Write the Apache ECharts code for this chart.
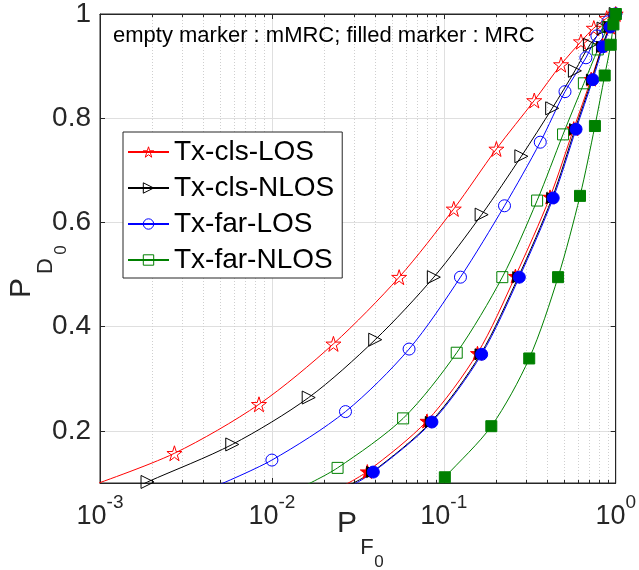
<!DOCTYPE html>
<html>
<head>
<meta charset="utf-8">
<script src="https://cdn.jsdelivr.net/npm/echarts@6/dist/echarts.min.js"></script>
<style>
  html, body { margin: 0; padding: 0; background: #ffffff; }
  #chart { width: 639px; height: 570px; }
</style>
</head>
<body>
<div id="chart"></div>
<script>
// ---- Detection curves: P_F0 (false alarm) vs P_D0 (detection) ----
// mMRC receiver (hollow markers)
const clsLosPf_m  = [0.00271, 0.00841, 0.0228, 0.0550, 0.1143, 0.2023, 0.336, 0.481, 0.628, 0.746, 0.887, 1];
const clsLosPd_m  = [0.157, 0.251, 0.367, 0.495, 0.626, 0.741, 0.834, 0.903, 0.947, 0.973, 0.992, 1];
const clsNlosPf_m = [0.00189, 0.00588, 0.01637, 0.0399, 0.0875, 0.166, 0.2826, 0.427, 0.579, 0.708, 0.85, 1];
const clsNlosPd_m = [0.102, 0.174, 0.264, 0.375, 0.495, 0.615, 0.727, 0.819, 0.891, 0.941, 0.972, 1];
const farLosPf_m  = [0.01, 0.0268, 0.0628, 0.125, 0.2255, 0.364, 0.507, 0.671, 0.777, 0.9, 1];
const farLosPd_m  = [0.144, 0.237, 0.357, 0.495, 0.632, 0.754, 0.851, 0.916, 0.958, 0.985, 1];
const farNlosPf_m = [0.0241, 0.058, 0.1189, 0.219, 0.349, 0.494, 0.653, 0.787, 0.9, 1];
const farNlosPd_m = [0.129, 0.224, 0.350, 0.495, 0.642, 0.769, 0.867, 0.932, 0.975, 1];

// MRC receiver (filled markers)
const clsLosPf  = [0.0359, 0.0798, 0.157, 0.261, 0.415, 0.57, 0.72, 0.84, 0.93, 1];
const clsLosPd  = [0.122, 0.219, 0.349, 0.497, 0.649, 0.78, 0.875, 0.94, 0.975, 1];
const clsNlosPf = [0.0383, 0.0840, 0.1635, 0.271, 0.427, 0.580, 0.727, 0.832, 0.92, 1];
const clsNlosPd = [0.121, 0.217, 0.347, 0.495, 0.647, 0.779, 0.874, 0.937, 0.975, 1];
const farLosPf  = [0.0389, 0.0853, 0.166, 0.275, 0.433, 0.588, 0.736, 0.842, 0.93, 1];
const farLosPd  = [0.121, 0.217, 0.347, 0.495, 0.647, 0.779, 0.874, 0.937, 0.975, 1];
const farNlosPf = [0.1014, 0.189, 0.314, 0.462, 0.620, 0.757, 0.863, 0.935, 0.97, 1];
const farNlosPd = [0.111, 0.209, 0.339, 0.495, 0.651, 0.785, 0.882, 0.941, 0.98, 1];

// Where each curve runs out through the lower/left frame (line only, no marker)
const clsLosTail_m  = [0.000875, 0.094];
const clsNlosTail_m = [0.00164, 0.092];
const farLosTail_m  = [0.00443, 0.09];
const farNlosTail_m = [0.01453, 0.09];
const clsLosTail  = [0.0244, 0.09];
const clsNlosTail = [0.0260, 0.09];
const farLosTail  = [0.0275, 0.09];
const farNlosTail = [0.0881, 0.09];

// Axis ticks
const pdTicks = [0.2, 0.4, 0.6, 0.8, 1];
const pfMinor = [0.002, 0.003, 0.004, 0.005, 0.006, 0.007, 0.008, 0.009,
                 0.02, 0.03, 0.04, 0.05, 0.06, 0.07, 0.08, 0.09,
                 0.2, 0.3, 0.4, 0.5, 0.6, 0.7, 0.8, 0.9];

const legendNames = ['Tx-cls-LOS', 'Tx-cls-NLOS', 'Tx-far-LOS', 'Tx-far-NLOS'];

const RED = '#ff0000', BLACK = '#000000', BLUE = '#0000ff', GREEN = '#008000';
const AXIS = '#262626', GRID = '#dfdfdf', MINOR = '#cfcfcf';
const HOLLOW = 'rgba(255,255,255,0)';
const FONT = '"Liberation Sans", Arial, Helvetica, sans-serif';

// five-pointed star marker
function starPath() {
  const pts = [];
  for (let i = 0; i < 10; i++) {
    const r = i % 2 ? 0.382 : 1;
    const a = -Math.PI / 2 + i * Math.PI / 5;
    pts.push((50 + 50 * r * Math.cos(a)).toFixed(2) + ',' + (50 + 50 * r * Math.sin(a)).toFixed(2));
  }
  return 'path://M' + pts.join('L') + 'Z';
}
const STAR = starPath();

function curve(name, pf, pd, tail, color, symbol, size, rotate, filled) {
  const data = [{ value: tail, symbol: 'none' }];
  pf.forEach((x, i) => data.push([x, pd[i]]));
  return {
    name: name,
    type: 'line',
    data: data,
    smooth: 0.3,
    symbol: symbol,
    symbolSize: size,
    symbolRotate: rotate,
    showAllSymbol: true,
    clip: true,
    lineStyle: { color: color, width: 1 },
    itemStyle: filled
      ? { color: color, borderColor: color, borderWidth: 1 }
      : { color: HOLLOW, borderColor: color, borderWidth: 1 },
    emphasis: { disabled: true },
    z: 3
  };
}

const chart = echarts.init(document.getElementById('chart'), null, { renderer: 'canvas' });

const series = [
  // minor grid lines and minor ticks of the log axis
  {
    type: 'custom',
    silent: true,
    clip: false,
    z: 1,
    data: pfMinor.map(v => [v, 0.1]),
    renderItem: function (params, api) {
      const x = api.value(0);
      const top = api.coord([x, 1]);
      const bot = api.coord([x, 0.1]);
      const px = Math.round(top[0]) + 0.5;
      return {
        type: 'group',
        children: [
          { type: 'line', shape: { x1: px, y1: top[1], x2: px, y2: bot[1] },
            style: { stroke: MINOR, lineWidth: 1, lineDash: [1, 2] } },
          { type: 'line', shape: { x1: px, y1: bot[1], x2: px, y2: bot[1] - 3 },
            style: { stroke: AXIS, lineWidth: 1 } },
          { type: 'line', shape: { x1: px, y1: top[1], x2: px, y2: top[1] + 3 },
            style: { stroke: AXIS, lineWidth: 1 } }
        ]
      };
    }
  },
  curve('Tx-cls-LOS',  clsLosPf_m,  clsLosPd_m,  clsLosTail_m,  RED,   STAR,       15, 0,   false),
  curve('Tx-cls-NLOS', clsNlosPf_m, clsNlosPd_m, clsNlosTail_m, BLACK, 'triangle', 13, -90, false),
  curve('Tx-far-LOS',  farLosPf_m,  farLosPd_m,  farLosTail_m,  BLUE,  'circle',   12, 0,   false),
  curve('Tx-far-NLOS', farNlosPf_m, farNlosPd_m, farNlosTail_m, GREEN, 'rect',     11, 0,   false),
  curve('Tx-cls-LOS MRC',  clsLosPf,  clsLosPd,  clsLosTail,  RED,   STAR,       14, 0,   true),
  curve('Tx-cls-NLOS MRC', clsNlosPf, clsNlosPd, clsNlosTail, BLACK, 'triangle', 11, -90, true),
  curve('Tx-far-LOS MRC',  farLosPf,  farLosPd,  farLosTail,  BLUE,  'circle',   12, 0,   true),
  curve('Tx-far-NLOS MRC', farNlosPf, farNlosPd, farNlosTail, GREEN, 'rect',     11, 0,   true)
];

const legendColors = [RED, BLACK, BLUE, GREEN];

const option = {
  animation: false,
  backgroundColor: '#ffffff',
  textStyle: { fontFamily: FONT },
  grid: {
    left: 100, top: 12, right: 20, bottom: 87,
    show: true, borderColor: AXIS, borderWidth: 1, backgroundColor: 'transparent'
  },
  xAxis: [
    {
      type: 'log', logBase: 10, min: 0.001, max: 1, position: 'bottom',
      axisLine: { show: true, lineStyle: { color: AXIS, width: 1 } },
      axisTick: { show: true, inside: true, length: 5, lineStyle: { color: AXIS } },
      splitLine: { show: true, lineStyle: { color: GRID, width: 1 } },
      axisLabel: {
        margin: 10,
        color: AXIS,
        formatter: function (v) {
          return '{b|10}{s|' + Math.round(Math.log10(v)) + '}';
        },
        rich: {
          b: { fontSize: 27, fontFamily: FONT, color: AXIS, padding: [10, 0, 0, 0] },
          s: { fontSize: 19, fontFamily: FONT, color: AXIS, verticalAlign: 'top' }
        }
      }
    },
    {
      type: 'log', logBase: 10, min: 0.001, max: 1, position: 'top',
      axisLine: { show: true, lineStyle: { color: AXIS, width: 1 } },
      axisTick: { show: true, inside: true, length: 5, lineStyle: { color: AXIS } },
      axisLabel: { show: false },
      splitLine: { show: false }
    }
  ],
  yAxis: [
    {
      type: 'value', min: 0.1, max: 1, position: 'left',
      axisLine: { show: true, lineStyle: { color: AXIS, width: 1 } },
      axisTick: { show: true, inside: true, length: 5, customValues: pdTicks, lineStyle: { color: AXIS } },
      axisLabel: { customValues: pdTicks, fontSize: 28, color: AXIS, margin: 9, fontFamily: FONT },
      splitLine: { show: true, lineStyle: { color: GRID, width: 1 } }
    },
    {
      type: 'value', min: 0.1, max: 1, position: 'right',
      axisLine: { show: true, lineStyle: { color: AXIS, width: 1 } },
      axisTick: { show: true, inside: true, length: 5, customValues: pdTicks, lineStyle: { color: AXIS } },
      axisLabel: { show: false },
      splitLine: { show: false }
    }
  ],
  legend: {
    data: legendNames.map((n, i) => ({
      name: n,
      itemStyle: { color: HOLLOW, borderColor: legendColors[i], borderWidth: 1 }
    })),
    orient: 'vertical',
    left: 123, top: 132,
    backgroundColor: '#ffffff',
    borderColor: AXIS, borderWidth: 1, borderRadius: 0,
    padding: [6, 8, 4, 4],
    itemGap: 8,
    itemWidth: 41,
    itemHeight: 13,
    selectedMode: false,
    textStyle: { fontSize: 28, color: '#000000', fontFamily: FONT }
  },
  graphic: [
    {
      type: 'text', left: 113, top: 25, z: 10,
      style: { text: 'empty marker : mMRC; filled marker : MRC', fontSize: 22, fontFamily: FONT, fill: '#000000' }
    },
    // x-axis title P_F0
    { type: 'text', x: 347, y: 524, z: 10,
      style: { text: 'P', fontSize: 30, fontFamily: FONT, fill: AXIS, align: 'center', verticalAlign: 'middle' } },
    { type: 'text', x: 367, y: 548, z: 10,
      style: { text: 'F', fontSize: 22, fontFamily: FONT, fill: AXIS, align: 'center', verticalAlign: 'middle' } },
    { type: 'text', x: 379, y: 562, z: 10,
      style: { text: '0', fontSize: 17, fontFamily: FONT, fill: AXIS, align: 'center', verticalAlign: 'middle' } },
    // y-axis title P_D0 (rotated)
    {
      type: 'group', x: 0, y: 0, z: 10,
      children: [
        { type: 'text', x: 22, y: 288, rotation: Math.PI / 2,
          style: { text: 'P', fontSize: 30, fontFamily: FONT, fill: AXIS, align: 'center', verticalAlign: 'middle' } },
        { type: 'text', x: 46, y: 266, rotation: Math.PI / 2,
          style: { text: 'D', fontSize: 22, fontFamily: FONT, fill: AXIS, align: 'center', verticalAlign: 'middle' } },
        { type: 'text', x: 61, y: 250, rotation: Math.PI / 2,
          style: { text: '0', fontSize: 17, fontFamily: FONT, fill: AXIS, align: 'center', verticalAlign: 'middle' } }
      ]
    }
  ],
  series: series
};

chart.setOption(option);
</script>
</body>
</html>
